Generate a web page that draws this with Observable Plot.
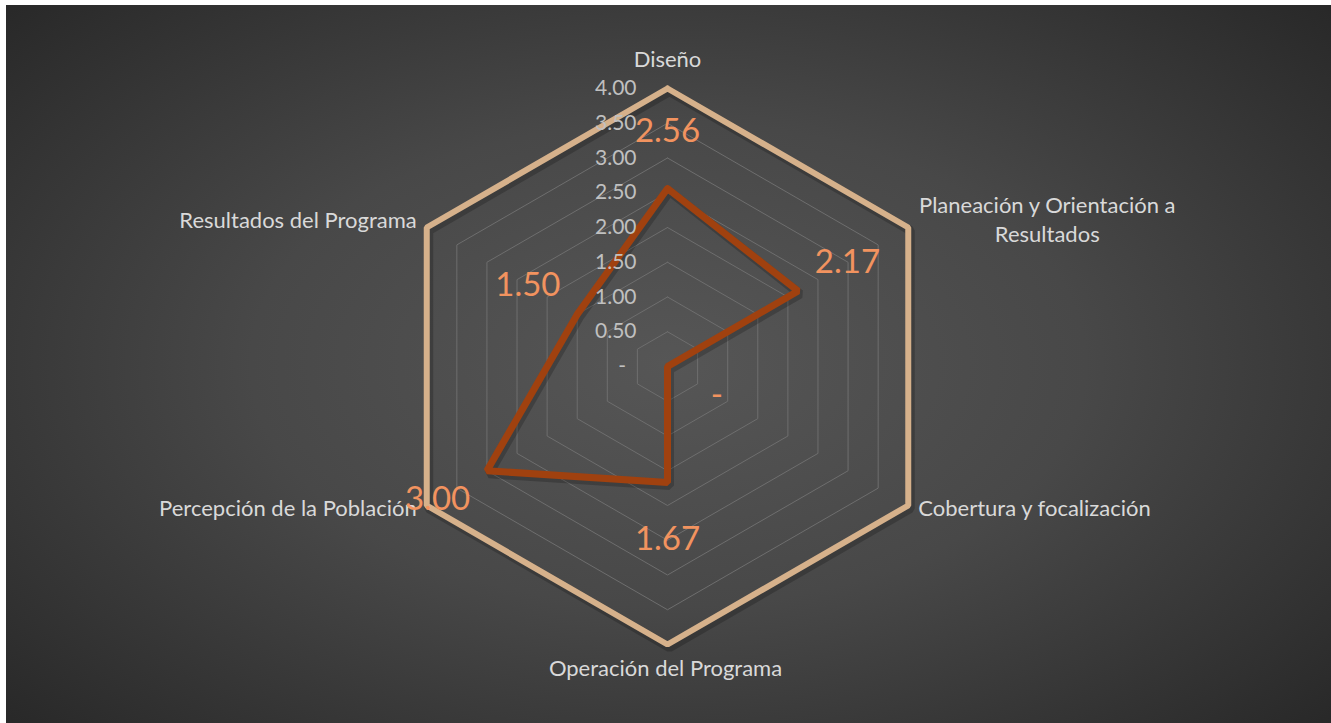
<!DOCTYPE html>
<html><head><meta charset="utf-8">
<script src="https://cdn.jsdelivr.net/npm/d3@7"></script>
<script src="https://cdn.jsdelivr.net/npm/@observablehq/plot@0.6"></script>
<style>
html,body{margin:0;padding:0;background:#fff;width:1331px;height:723px;overflow:hidden}
#bg{position:absolute;left:6px;top:5px;width:1325px;height:718px;background:radial-gradient(ellipse 70% 75% at 50% 50%, #565656 0%, #484848 45%, #333333 80%, #272727 100%)}
#chart{position:absolute;left:0;top:0}
</style></head><body><div id="bg"></div><div id="chart"></div>
<script>
// ---- data ----
const categories = ["Diseño", "Planeación y Orientación a\nResultados", "Cobertura y focalización", "Operación del Programa", "Percepción de la Población", "Resultados del Programa"];
const scores = [2.56, 2.17, 0, 1.67, 3.00, 1.50];
const maxScores = [4, 4, 4, 4, 4, 4];
const scoreLabels = ["2.56", "2.17", "-", "1.67", "3.00", "1.50"];
const tickValues = [0, 0.5, 1, 1.5, 2, 2.5, 3, 3.5, 4];
const tickLabels = ["-\u2002", "0.50", "1.00", "1.50", "2.00", "2.50", "3.00", "3.50", "4.00"];

// ---- geometry helpers ----
const W = 1331, H = 723, cx = 667, cy = 366, R = 278, rMax = 4;
const k = R / rMax;
const n = categories.length;
const ang = i => (i * 2 * Math.PI) / n;
const px = (r, i) => r * Math.sin(ang(i));
const py = (r, i) => r * Math.cos(ang(i));
const closed = (vals, key) => d3.range(n + 1).map(j => ({x: px(vals[j % n], j % n), y: py(vals[j % n], j % n), z: key}));

const rings = tickValues.filter(v => v > 0 && v < rMax).flatMap(v => closed(Array(n).fill(v), v));
const maxLine = closed(maxScores, "max");
const scoreLine = closed(scores, "score");
const ticks = tickValues.map((v, i) => ({x: 0, y: v, label: tickLabels[i]}));
const vertices = categories.map((c, i) => ({x: px(rMax, i), y: py(rMax, i), label: c}));
const dataLabels = scores.map((v, i) => ({x: px(v + 0.82, i), y: py(v + 0.82, i), label: scoreLabels[i]}));

const font = "Lato, 'Noto Sans', sans-serif";
const catStyle = {fill: "#d9d9d9", fontSize: 22, fontFamily: font, lineHeight: 1.32};
const catMark = (i, opts) => Plot.text(vertices.filter((d, j) => j === i), {x: "x", y: "y", text: "label", ...catStyle, ...opts});
const shadow = {stroke: "#000", strokeOpacity: 0.2, strokeWidth: 9, strokeLinejoin: "miter", dx: 2, dy: 3};

const chart = Plot.plot({
  width: W, height: H,
  margin: 0,
  style: {background: "transparent", overflow: "visible"},
  x: {domain: [-cx / k, (W - cx) / k], axis: null},
  y: {domain: [-(H - cy) / k, cy / k], axis: null},
  marks: [
    Plot.line(rings, {x: "x", y: "y", z: "z", stroke: "#6e6e6e", strokeWidth: 1}),
    Plot.line(maxLine, {x: "x", y: "y", ...shadow}),
    Plot.line(maxLine, {x: "x", y: "y", stroke: "#d6b18b", strokeWidth: 6, strokeLinejoin: "miter"}),
    Plot.line(scoreLine, {x: "x", y: "y", ...shadow}),
    Plot.line(scoreLine, {x: "x", y: "y", stroke: "#a0410f", strokeWidth: 7, strokeLinejoin: "miter"}),
    Plot.text(ticks, {x: "x", y: "y", text: "label", textAnchor: "end", dx: -31, fill: "#c0c0c0", fontSize: 21, fontFamily: font}),
    catMark(0, {textAnchor: "middle", dy: -31}),
    catMark(1, {textAnchor: "middle", dx: 139, dy: -9}),
    catMark(2, {textAnchor: "start", dx: 10, dy: 1}),
    catMark(3, {textAnchor: "middle", dx: -2, dy: 22}),
    catMark(4, {textAnchor: "end", dx: -10, dy: 1}),
    catMark(5, {textAnchor: "end", dx: -10, dy: -9}),
    Plot.text(dataLabels, {x: "x", y: "y", text: "label", fill: "#f2935f", fontSize: 33, fontFamily: font})
  ]
});
document.getElementById("chart").appendChild(chart);
</script>
</body></html>
